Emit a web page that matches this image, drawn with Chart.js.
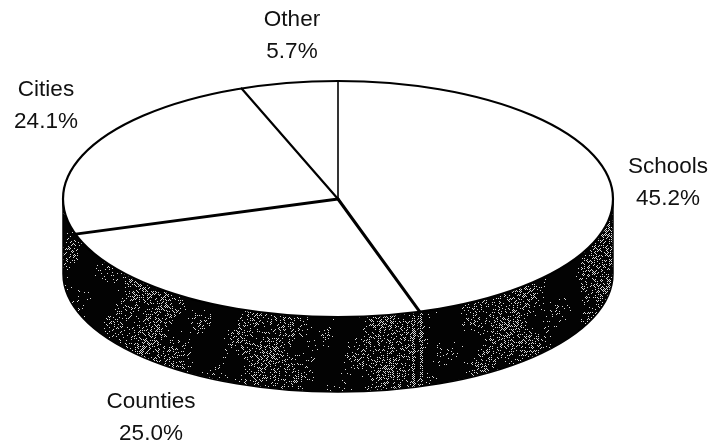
<!DOCTYPE html>
<html>
<head>
<meta charset="utf-8">
<style>
  html, body { margin: 0; padding: 0; background: #fff; }
  canvas { display: block; }
</style>
<script src="https://cdn.jsdelivr.net/npm/chart.js@4/dist/chart.umd.min.js"></script>
</head>
<body>
<canvas id="pieChart" width="712" height="446"></canvas>
<script>
const categories = ['Schools', 'Counties', 'Cities', 'Other'];
const shares = [45.2, 25.0, 24.1, 5.7];

const squash = 118 / 275;  // tilt of the pie
const depth = 75;          // height of the side wall

// label anchors, centre x and first baseline
const labelSpots = [[668, 173], [151, 408], [46, 96], [292, 26]];

// mottled dark texture for the side wall
function wallTexture() {
    const c = document.createElement('canvas');
    c.width = 712;
    c.height = 446;
    const g = c.getContext('2d');
    g.fillStyle = '#030303';
    g.fillRect(0, 0, 712, 446);
    g.fillStyle = '#d8d8d8';
    for (let x = 0; x < 712; x++) {
        for (let y = 190; y < 400; y++) {
            if ((x + y) % 2) continue;
            const h = Math.abs(Math.sin(x * 12.9898 + y * 78.233) * 43758.5453) % 1;
            let d = 0.15 + 0.17 * Math.sin(x / 19) + 0.1 * Math.sin(x / 7 + y / 11) + 0.08 * Math.sin(y / 8 - x / 15);
            if (x > 580) d += 0.2;
            if (x < 80) d += 0.08;
            if (Math.abs(x - 413) < 2 || Math.abs(x - 421) < 2) d = 0.7;
            if (h < d) g.fillRect(x, y, 1, 1);
        }
    }
    return g.createPattern(c, 'no-repeat');
}

const pie3d = {
    id: 'pie3d',
    beforeDatasetsDraw(chart) {
        const ctx = chart.ctx;
        const arcs = chart.getDatasetMeta(0).data;
        const {x, y, outerRadius: r} = arcs[0];
        const ry = r * squash;

        // side wall, lower half of the ellipse swept down
        ctx.save();
        ctx.beginPath();
        ctx.ellipse(x, y + depth, r, ry, 0, 0, Math.PI);
        ctx.ellipse(x, y, r, ry, 0, Math.PI, 0, true);
        ctx.closePath();
        ctx.fillStyle = wallTexture();
        ctx.fill();
        ctx.strokeStyle = '#000';
        ctx.lineWidth = 1.5;
        ctx.stroke();

        // seam under the Schools / Counties edge
        const a = arcs[0].endAngle;
        const sx = x + r * Math.cos(a);
        const sy = y + ry * Math.sin(a);
        ctx.lineWidth = 1.2;
        ctx.beginPath();
        ctx.moveTo(sx - 3, sy);
        ctx.lineTo(sx - 3, sy + depth);
        ctx.stroke();
        ctx.restore();

        // flatten the slices the library draws next
        ctx.save();
        ctx.transform(1, 0, 0, squash, 0, y * (1 - squash));
    },
    afterDatasetsDraw(chart) {
        const ctx = chart.ctx;
        ctx.restore();

        const arcs = chart.getDatasetMeta(0).data;
        const {x, y, outerRadius: r} = arcs[0];
        const ry = r * squash;

        ctx.save();
        ctx.strokeStyle = '#000';
        ctx.lineCap = 'round';
        ctx.lineWidth = 2.2;
        ctx.beginPath();
        ctx.ellipse(x, y, r, ry, 0, 0, Math.PI * 2);
        ctx.stroke();

        const spokes = [3, 2.8, 2.2, 1.6];
        arcs.forEach((arc, i) => {
            ctx.lineWidth = spokes[i];
            ctx.beginPath();
            ctx.moveTo(x, y);
            ctx.lineTo(x + r * Math.cos(arc.endAngle), y + ry * Math.sin(arc.endAngle));
            ctx.stroke();
        });

        ctx.fillStyle = '#111';
        ctx.font = '22.5px "Liberation Sans"';
        ctx.textAlign = 'center';
        categories.forEach((name, i) => {
            const [lx, ly] = labelSpots[i];
            ctx.fillText(name, lx, ly);
            ctx.fillText(shares[i].toFixed(1) + '%', lx, ly + 32);
        });
        ctx.restore();
    }
};

new Chart(document.getElementById('pieChart'), {
    type: 'pie',
    data: {
        labels: categories,
        datasets: [{
            data: shares,
            backgroundColor: '#fff',
            borderWidth: 0
        }]
    },
    options: {
        responsive: false,
        animation: false,
        radius: 275,
        layout: { padding: { right: 36, bottom: 48 } },
        plugins: {
            legend: { display: false },
            tooltip: { enabled: false }
        }
    },
    plugins: [pie3d]
});
</script>
</body>
</html>
